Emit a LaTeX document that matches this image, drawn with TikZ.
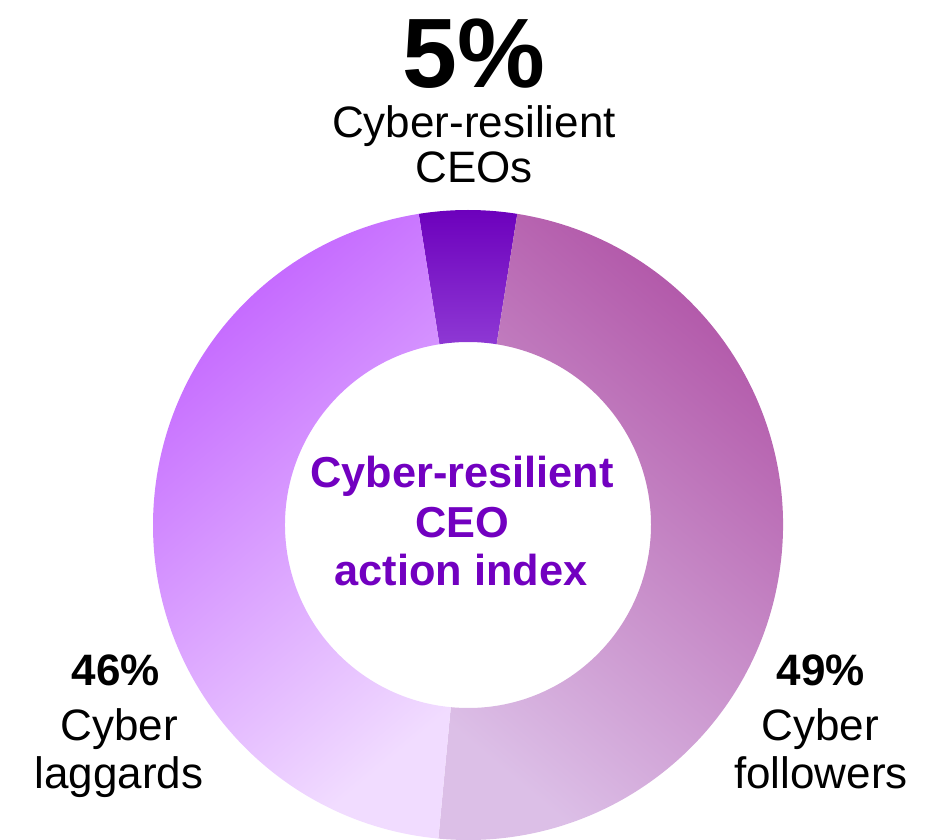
\documentclass[tikz,border=0pt]{standalone}
\usepackage{fontspec}
\setmainfont{Liberation Sans}
\usetikzlibrary{calc}
\definecolor{csrtop}{HTML}{6C00BC}
\definecolor{csrbot}{HTML}{8E38D4}
\definecolor{foldark}{HTML}{B053A6}
\definecolor{follight}{HTML}{DCBFE7}
\definecolor{lagdark}{HTML}{C262FF}
\definecolor{laglight}{HTML}{F1DCFF}
\definecolor{titlepurple}{HTML}{7200C0}
\tikzset{
		segment/.style={draw=none},
		bigpct/.style={
			font=\fontsize{74}{80}\selectfont\bfseries,
			anchor=base, inner sep=0pt},
		pct/.style={
			font=\fontsize{33}{40}\selectfont\bfseries,
			anchor=base, inner sep=0pt},
		lbl/.style={
			font=\fontsize{33}{40}\selectfont,
			anchor=base, inner sep=0pt},
		title/.style={
			font=\fontsize{32.5}{40}\selectfont\bfseries,
			text=titlepurple,
			anchor=base, inner sep=0pt},
	}
\begin{document}
\begin{tikzpicture}[x=0.75pt, y=0.75pt]
				\useasboundingbox (0,0) rectangle (937,839);
				\coordinate (c) at (468,314);
				
				%% ring
				\shade[segment, top color=csrtop, bottom color=csrbot]
				($(c)+(99:315)$) arc[start angle=99, end angle=81, radius=315]
				-- ($(c)+(81:183)$) arc[start angle=81, end angle=99, radius=183] -- cycle;
				
				\shade[segment, top color=foldark, bottom color=follight, shading angle=-40]
				($(c)+(81:315)$) arc[start angle=81, end angle=-95.4, radius=315]
				-- ($(c)+(-95.4:183)$) arc[start angle=-95.4, end angle=81, radius=183] -- cycle;
				
				\shade[segment, top color=lagdark, bottom color=laglight, shading angle=40]
				($(c)+(-95.4:315)$) arc[start angle=-95.4, end angle=-261, radius=315]
				-- ($(c)+(99:183)$) arc[start angle=99, end angle=264.6, radius=183] -- cycle;
				
				%% centre
				\node[title] (title1) at (462,351) {Cyber-resilient};
				\node[title] (title2) at (462,302) {CEO};
				\node[title] (title3) at (461,254) {action index};
				
				%% top label
				\node[bigpct] (csr-pct) at (474,751) {5\%};
				\node[lbl] (csr-l1) at (474,701) {Cyber-resilient};
				\node[lbl] (csr-l2) at (474,656) {CEOs};
				
				%% right label
				\node[pct] (fol-pct) at (821,154) {49\%};
				\node[lbl] (fol-l1) at (820,99) {Cyber};
				\node[lbl] (fol-l2) at (821,51) {followers};
				
				%% left label
				\node[pct] (lag-pct) at (116,154) {46\%};
				\node[lbl] (lag-l1) at (119,99) {Cyber};
				\node[lbl] (lag-l2) at (119,51) {laggards};
				
				\end{tikzpicture}
\end{document}
